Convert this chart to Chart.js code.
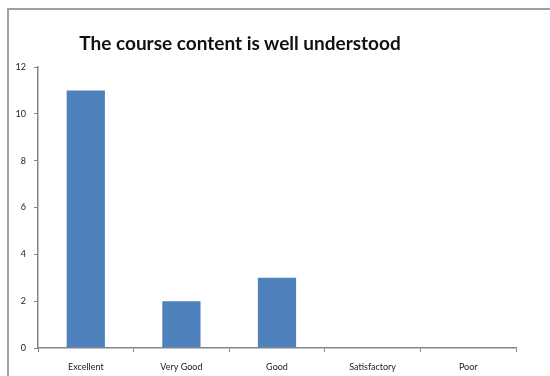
<!DOCTYPE html>
<html><head><meta charset="utf-8">
<script src="https://cdn.jsdelivr.net/npm/chart.js@4"></script>
<style>
html,body{margin:0;padding:0;background:#fff;width:550px;height:376px;overflow:hidden;}
#wrap{position:absolute;left:0;top:0;width:550px;height:376px;}
#frame{position:absolute;left:7px;top:8px;width:560px;height:380px;border-left:2px solid #a0a0a0;border-top:2px solid #a0a0a0;box-sizing:border-box;pointer-events:none;}
#title{position:absolute;left:0;top:31px;width:480px;text-align:center;font-family:Lato,sans-serif;font-weight:bold;font-size:19px;color:#111;}
</style></head>
<body>
<div id="wrap"><canvas id="c" width="550" height="376"></canvas></div>
<div id="frame"></div>
<div id="title">The course content is well understood</div>
<script>
const categories = ["Excellent", "Very Good", "Good", "Satisfactory", "Poor"];
const responses = [11, 2, 3, 0, 0];
const yTicks = [0, 2, 4, 6, 8, 10, 12];

new Chart(document.getElementById('c'), {
  type: 'bar',
  data: {
    labels: categories,
    datasets: [{
      data: responses,
      backgroundColor: '#4f81bd',
      borderWidth: 0,
      barPercentage: 0.4,
      categoryPercentage: 1.0
    }]
  },
  options: {
    responsive: false,
    animation: false,
    layout: { padding: { left: 0, right: 34, top: 67, bottom: 0 } },
    plugins: { legend: { display: false }, tooltip: { enabled: false }, title: { display: false } },
    scales: {
      x: {
        grid: { display: true, drawOnChartArea: false, drawTicks: true, tickLength: 4, color: '#868686', offset: true },
        border: { display: true, color: '#868686', width: 1.5 },
        ticks: { color: '#222', font: { family: 'Lato', size: 9 }, padding: 10 },
        afterFit: (s) => { s.height = 28; }
      },
      y: {
        min: 0, max: 12,
        afterBuildTicks: (s) => { s.ticks = yTicks.map(v => ({ value: v })); },
        grid: { display: true, drawOnChartArea: false, drawTicks: true, tickLength: 4, color: '#868686' },
        border: { display: true, color: '#868686', width: 1.5 },
        ticks: { color: '#222', font: { family: 'Lato', size: 9 }, padding: 8 },
        afterFit: (s) => { s.width = 38; }
      }
    }
  }
});
</script>
</body></html>
